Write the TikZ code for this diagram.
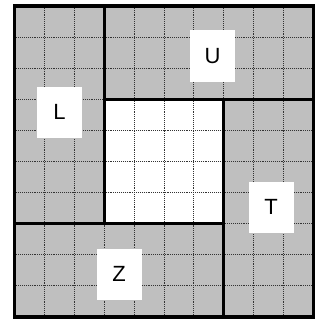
\documentclass[tikz,border=0pt]{standalone}
\usepackage{fontspec}
\setmainfont{Liberation Sans}
\begin{document}
\begin{tikzpicture}[x=1pt,y=-1pt,
  region/.style={fill=black!25,draw=none},
  gridline/.style={densely dotted,line width=0.9pt,black!80},
  thick border/.style={line width=3pt,black},
  outer border/.style={line width=3.6pt,black},
  label box/.style={fill=white,draw=none,minimum width=45pt,minimum height=51pt,inner sep=0pt,
     font=\fontsize{22}{22}\selectfont}]
\useasboundingbox (0,0) rectangle (323,321);
\def\dx{29.9}
\def\dy{31.1}
\coordinate (o) at (14.5,6);
% grey background and white centre
\fill[region] (14.5,6) rectangle (313.5,317);
\fill[white] (14.5+3*\dx,6+3*\dy) rectangle (14.5+7*\dx,6+7*\dy);
% dotted grid
\foreach \i in {1,...,9}{
  \draw[gridline] (14.5+\i*\dx,6) -- (14.5+\i*\dx,317);
  \draw[gridline] (14.5,6+\i*\dy) -- (313.5,6+\i*\dy);
}
% labels
\node[label box] (L) at (59.5,112) {L};
\node[label box] (U) at (212.5,56) {U};
\node[label box] (T) at (271,207) {T};
\node[label box] (Z) at (119,274) {Z};
% thick region borders
\draw[thick border] (14.5+3*\dx,6) -- (14.5+3*\dx,6+7*\dy);
\draw[thick border] (14.5+3*\dx,6+3*\dy) -- (313.5,6+3*\dy);
\draw[thick border] (14.5+7*\dx,6+3*\dy) -- (14.5+7*\dx,317);
\draw[thick border] (14.5,6+7*\dy) -- (14.5+7*\dx,6+7*\dy);
\draw[outer border] (14.5,6) rectangle (313.5,317);
\end{tikzpicture}
\end{document}
